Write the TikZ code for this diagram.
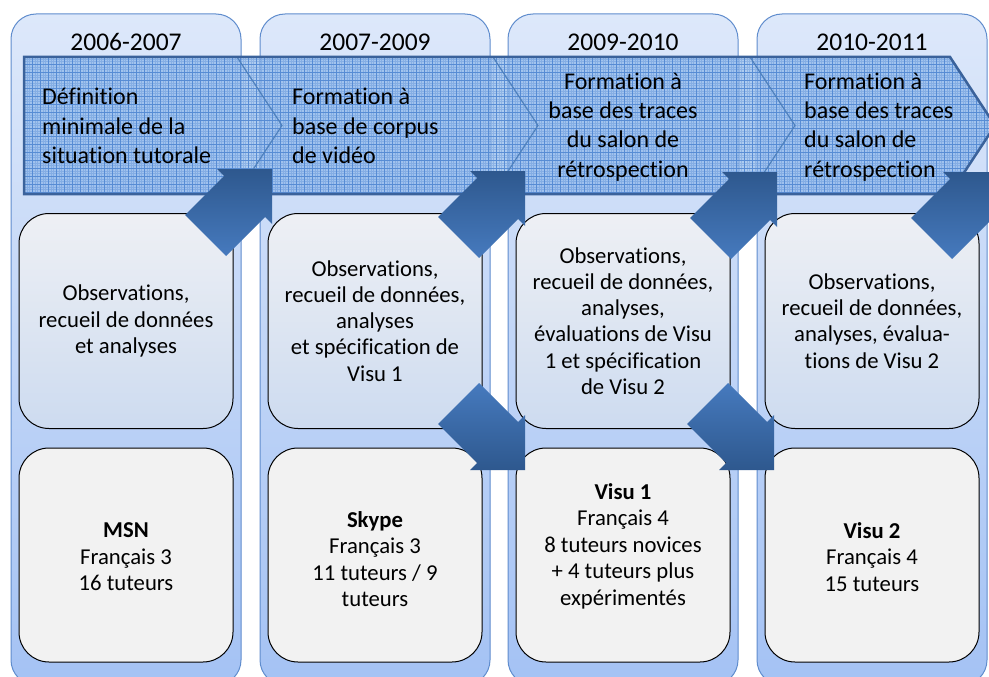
\documentclass[tikz,border=0pt]{standalone}
\usepackage{fontspec}
\setmainfont{Carlito}[RawFeature={-liga;-calt;-clig}]
\definecolor{coltop}{RGB}{221,232,250}
\definecolor{colbot}{RGB}{164,194,244}
\definecolor{colborder}{RGB}{95,140,205}
\definecolor{midtop}{RGB}{238,240,244}
\definecolor{midbot}{RGB}{205,219,240}
\definecolor{boxgray}{RGB}{242,242,242}
\definecolor{bandfill}{RGB}{140,182,234}
\definecolor{gridc}{RGB}{80,135,210}
\definecolor{bandborder}{RGB}{58,98,155}
\definecolor{chevc}{RGB}{79,129,189}
\definecolor{arrdark}{RGB}{46,88,142}
\definecolor{arrlight}{RGB}{70,122,190}
\begin{document}
\begin{tikzpicture}[x=1pt,y=-1pt,
  colbox/.style={draw=colborder, line width=1pt, rounded corners=25pt, top color=coltop, bottom color=colbot, minimum width=230pt, minimum height=671pt, inner sep=0pt},
  yearlbl/.style={font=\fontsize{25.5}{30}\selectfont, inner sep=0pt},
  chevtxt/.style={font=\fontsize{24}{29.3}\selectfont, inner sep=0pt},
  midbox/.style={draw=black, line width=1pt, rounded corners=30pt, top color=midtop, bottom color=midbot, minimum width=214pt, minimum height=215pt, align=center, font=\fontsize{22.7}{26.2}\selectfont, inner sep=0pt},
  botbox/.style={draw=black, line width=1pt, rounded corners=30pt, fill=boxgray, minimum width=214pt, minimum height=214pt, inner sep=0pt},
  bottxt/.style={align=center, font=\fontsize{22.7}{26.5}\selectfont, inner sep=0pt},
  chevline/.style={draw=chevc, line width=1.2pt},
  bandline/.style={draw=bandborder, line width=2.5pt, line join=miter},
  arrNEfill/.style={top color=arrdark, bottom color=arrlight, draw=none},
  arrSEfill/.style={top color=arrlight, bottom color=arrdark, draw=none},
  arrne/.pic={\path[arrNEfill] (0,0) -- (-55,0) -- (-48,7) -- (-87,46) -- (-46,87) -- (-7,48) -- (0,55) -- cycle;},
  arrse/.pic={\path[arrSEfill] (0,0) -- (-55,0) -- (-48,-7) -- (-87,-46) -- (-46,-87) -- (-7,-48) -- (0,-55) -- cycle;}
]
\useasboundingbox (0,0) rectangle (989,677);
\begin{scope}
\clip (0,0) rectangle (989,677);
% columns
\node[colbox] (col1) at (126,349.5) {};
\node[colbox] (col2) at (375,349.5) {};
\node[colbox] (col3) at (623,349.5) {};
\node[colbox] (col4) at (872,349.5) {};
% years
\node[yearlbl] (y1) at (126,42) {2006-2007};
\node[yearlbl] (y2) at (375,42) {2007-2009};
\node[yearlbl] (y3) at (623,42) {2009-2010};
\node[yearlbl] (y4) at (872,42) {2010-2011};
% middle boxes
\node[midbox] (m1) at (126,321) {Observations,\\recueil de données\\et analyses};
\node[midbox] (m2) at (375,321) {Observations,\\recueil de données,\\analyses\\et spécification de\\Visu 1};
\node[midbox] (m3) at (623,321) {Observations,\\recueil de données,\\analyses,\\évaluations de Visu\\1 et spécification\\de Visu 2};
\node[midbox] (m4) at (872,321) {Observations,\\recueil de données,\\analyses, évalua-\\tions de Visu 2};
% bottom boxes
\node[botbox] (b1) at (126,555) {};
\node[botbox] (b2) at (375,555) {};
\node[botbox] (b3) at (623,555) {};
\node[botbox] (b4) at (872,555) {};
\node[bottxt] (t1) at (126,557) {\textbf{MSN}\\Français 3\\16 tuteurs};
\node[bottxt] (t2) at (375,559) {\textbf{Skype}\\Français 3\\11 tuteurs / 9\\tuteurs};
\node[bottxt] (t3) at (623,546) {\textbf{Visu 1}\\Français 4\\8 tuteurs novices\\+ 4 tuteurs plus\\expérimentés};
\node[bottxt] (t4) at (872,557) {\textbf{Visu 2}\\Français 4\\15 tuteurs};
% chevron band
\path[fill=bandfill, fill opacity=0.7] (24,57) -- (950,57) -- (995,125.5) -- (950,194) -- (24,194) -- cycle;
\begin{scope}
\clip (24,57) -- (950,57) -- (995,125.5) -- (950,194) -- (24,194) -- cycle;
\draw[gridc, line width=0.25pt, opacity=0.35, step=2.667pt] (24,57) grid (1000,200);
\draw[gridc, line width=0.8pt, opacity=0.85, step=8pt] (24,57) grid (1000,200);
\end{scope}
\draw[chevline] (237,57) -- (282,125.5) -- (237,194);
\draw[chevline] (493,57) -- (538,125.5) -- (493,194);
\draw[chevline] (750,57) -- (795,125.5) -- (750,194);
\draw[bandline] (24,57) -- (950,57) -- (995,125.5) -- (950,194) -- (24,194) -- cycle;
% chevron texts
\node[chevtxt, anchor=west, align=left] (c1) at (42,126) {Définition\\minimale de la\\situation tutorale};
\node[chevtxt, anchor=west, align=left] (c2) at (292,126) {Formation à\\base de corpus\\de vidéo};
\node[chevtxt, align=center] (c3) at (623,127) {Formation à\\base des traces\\du salon de\\rétrospection};
\node[chevtxt, anchor=west, align=left] (c4) at (804,127) {Formation à\\base des traces\\du salon de\\rétrospection};
% big arrows
\pic (a1) at (272,169) {arrne};
\pic (a2) at (525,171) {arrne};
\pic (a3) at (777,172) {arrne};
\pic (a4) at (998,172) {arrne};
\pic (a5) at (525,470) {arrse};
\pic (a6) at (774,470) {arrse};
\end{scope}
\end{tikzpicture}
\end{document}
